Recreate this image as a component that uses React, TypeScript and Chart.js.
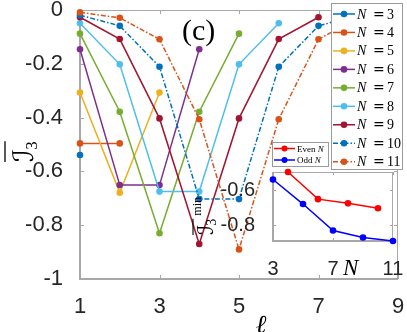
import React, { useEffect, useRef } from "react";
import { Chart, registerables } from "chart.js";

Chart.register(...registerables);

// ---------------- data ----------------
const ellValues = [1, 2, 3, 4, 5, 6, 7, 8, 9];
const systemSizes = [3, 4, 5, 6, 7, 8, 9, 10, 11];
const mainXTicks = [1, 3, 5, 7, 9];
const mainYTicks = [0, -0.2, -0.4, -0.6, -0.8, -1];
const insetXTicks = [3, 7, 11];
const insetYTicks = [-0.8, -0.6];

const I3_N3 = [-0.539];
const I3_N4 = [-0.496, -0.496];
const I3_N5 = [-0.307, -0.679, -0.307];
const I3_N6 = [-0.146, -0.651, -0.651, -0.146];
const I3_N7 = [-0.088, -0.378, -0.83, -0.378, -0.088];
const I3_N8 = [-0.049, -0.202, -0.675, -0.675, -0.202, -0.049];
const I3_N9 = [-0.027, -0.108, -0.403, -0.87, -0.403, -0.108, -0.027];
const I3_N10 = [-0.019, -0.059, -0.211, -0.703, -0.703, -0.211, -0.059, -0.019];
const I3_N11 = [-0.009, -0.029, -0.109, -0.406, -0.89, -0.406, -0.109, -0.029, -0.009];

const seriesValues = [I3_N3, I3_N4, I3_N5, I3_N6, I3_N7, I3_N8, I3_N9, I3_N10, I3_N11];
const seriesColors = ["#0072BD", "#D95319", "#EDB120", "#7E2F8E", "#77AC30", "#4DBEEE", "#A2142F", "#0072BD", "#D95319"];
const seriesDashed = [false, false, false, false, false, false, false, true, true];

const evenSizes = systemSizes.filter((n) => n % 2 === 0);
const oddSizes = systemSizes.filter((n) => n % 2 === 1);
const minOfSize = (n: number) => Math.min(...seriesValues[systemSizes.indexOf(n)]);
const evenMins = evenSizes.map(minOfSize);
const oddMins = oddSizes.map(minOfSize);

// ---------------- styles ----------------
const W = 407;
const H = 332;
const INSET_LEFT = 180;
const INSET_TOP = 138;
const INSET_W = 227;
const INSET_H = 152;
const AXIS_COLOR = "#a8a8a8";
const TEXT_COLOR = "#262626";
const DASH_DOT = [5, 2, 1.5, 2];
const SANS = "Liberation Sans";
const SERIF = "Liberation Serif";

function drawBox(chart: any, tickLen: number) {
  const { ctx, chartArea: a } = chart;
  const xs = chart.scales.x;
  const ys = chart.scales.y;
  ctx.save();
  ctx.strokeStyle = AXIS_COLOR;
  ctx.lineWidth = 1;
  ctx.setLineDash([]);
  ctx.beginPath();
  xs.ticks.forEach((t: any) => {
    const p = Math.round(xs.getPixelForValue(t.value)) + 0.5;
    ctx.moveTo(p, a.bottom);
    ctx.lineTo(p, a.bottom - tickLen);
    ctx.moveTo(p, a.top);
    ctx.lineTo(p, a.top + tickLen);
  });
  ys.ticks.forEach((t: any) => {
    const p = Math.round(ys.getPixelForValue(t.value)) + 0.5;
    ctx.moveTo(a.left, p);
    ctx.lineTo(a.left + tickLen, p);
    ctx.moveTo(a.right, p);
    ctx.lineTo(a.right - tickLen, p);
  });
  ctx.moveTo(a.left, a.top + 0.5);
  ctx.lineTo(a.right, a.top + 0.5);
  ctx.moveTo(a.right - 0.5, a.top);
  ctx.lineTo(a.right - 0.5, a.bottom);
  ctx.stroke();
  ctx.lineWidth = 2;
  ctx.beginPath();
  ctx.moveTo(a.left, a.top);
  ctx.lineTo(a.left, a.bottom);
  ctx.lineTo(a.right, a.bottom);
  ctx.stroke();
  ctx.restore();
}

function legendSample(ctx: CanvasRenderingContext2D, x0: number, x1: number, y: number, color: string, dashed: boolean, r: number) {
  ctx.strokeStyle = color;
  ctx.lineWidth = 1.5;
  ctx.setLineDash(dashed ? DASH_DOT : []);
  ctx.beginPath();
  ctx.moveTo(x0, y);
  ctx.lineTo(x1, y);
  ctx.stroke();
  ctx.setLineDash([]);
  ctx.fillStyle = color;
  ctx.beginPath();
  ctx.arc((x0 + x1) / 2, y, r, 0, Math.PI * 2);
  ctx.fill();
}

const mainDecor = {
  id: "mainDecor",
  beforeDatasetsDraw(chart: any) {
    drawBox(chart, 4);
  },
  afterDraw(chart: any) {
    const ctx: CanvasRenderingContext2D = chart.ctx;
    ctx.save();
    // panel label
    ctx.fillStyle = "#000";
    ctx.font = `30px "${SERIF}"`;
    ctx.textAlign = "left";
    ctx.textBaseline = "alphabetic";
    ctx.fillText("(c)", 182, 40);

    // legend
    const lx = 331, ly = 3, lw = 72, lh = 167;
    ctx.fillStyle = "#fff";
    ctx.fillRect(lx, ly, lw, lh);
    ctx.strokeStyle = "#9a9a9a";
    ctx.lineWidth = 1;
    ctx.strokeRect(lx + 0.5, ly + 0.5, lw - 1, lh - 1);
    systemSizes.forEach((n, i) => {
      const y = 14 + i * 18.46;
      legendSample(ctx, lx + 2, lx + 24, y, seriesColors[i], seriesDashed[i], 3.3);
      ctx.fillStyle = "#000";
      ctx.textAlign = "left";
      ctx.textBaseline = "alphabetic";
      ctx.font = `italic 14px "${SERIF}"`;
      ctx.fillText("N", lx + 26, y + 4.5);
      ctx.font = `14px "DejaVu Serif"`;
      ctx.fillText("=", lx + 42, y + 4.5);
      ctx.font = `14px "${SERIF}"`;
      ctx.fillText(String(n), lx + 56, y + 4.5);
    });

    // y title: overline{ I_3 }
    ctx.save();
    ctx.translate(33, 162);
    ctx.rotate(-Math.PI / 2);
    ctx.fillStyle = "#000";
    ctx.textAlign = "left";
    ctx.textBaseline = "alphabetic";
    ctx.font = `28px "DejaVu Serif", "DejaVu Sans"`;
    ctx.fillText("\u2110", 0, 0);
    const wI = ctx.measureText("\u2110").width;
    ctx.font = `17px "${SERIF}"`;
    ctx.fillText("3", wI - 1, 4);
    const w3 = ctx.measureText("3").width;
    ctx.strokeStyle = "#000";
    ctx.lineWidth = 1.3;
    ctx.beginPath();
    ctx.moveTo(0, -28);
    ctx.lineTo(wI - 1 + w3, -28);
    ctx.stroke();
    ctx.restore();

    // x title
    ctx.fillStyle = "#000";
    ctx.textAlign = "center";
    ctx.font = `italic 26px "DejaVu Serif"`;
    ctx.fillText("\u2113", 261, 333);
    ctx.restore();
  },
};

const insetDecor = {
  id: "insetDecor",
  beforeDraw(chart: any) {
    const { ctx, chartArea: a } = chart;
    ctx.save();
    ctx.fillStyle = "#fff";
    ctx.fillRect(a.left, a.top, a.right - a.left, a.bottom - a.top);
    ctx.restore();
  },
  beforeDatasetsDraw(chart: any) {
    drawBox(chart, 3);
  },
  afterDraw(chart: any) {
    const ctx: CanvasRenderingContext2D = chart.ctx;
    const ox = -INSET_LEFT, oy = -INSET_TOP;
    ctx.save();
    // inset legend
    const lx = 272 + ox, ly = 142 + oy, lw = 57, lh = 25;
    ctx.fillStyle = "#fff";
    ctx.fillRect(lx, ly, lw, lh);
    ctx.strokeStyle = "#9a9a9a";
    ctx.lineWidth = 1;
    ctx.strokeRect(lx + 0.5, ly + 0.5, lw - 1, lh - 1);
    const entries = [
      { label: "Even ", color: "#ff0000", y: 148.5 },
      { label: "Odd ", color: "#0000ff", y: 160 },
    ];
    entries.forEach((e) => {
      const y = e.y + oy;
      legendSample(ctx, lx + 2, lx + 23, y, e.color, false, 3);
      ctx.fillStyle = "#000";
      ctx.textAlign = "left";
      ctx.textBaseline = "alphabetic";
      ctx.font = `9px "${SERIF}"`;
      ctx.fillText(e.label, lx + 25, y + 3);
      const w = ctx.measureText(e.label).width;
      ctx.font = `italic 9px "${SERIF}"`;
      ctx.fillText("N", lx + 25 + w, y + 3);
    });

    // x title N
    ctx.fillStyle = "#000";
    ctx.font = `italic 23px "${SERIF}"`;
    ctx.fillText("N", 343 + ox, 275 + oy);

    // y title: overline{I_3}^{min}
    ctx.save();
    ctx.translate(213 + ox, 235 + oy);
    ctx.rotate(-Math.PI / 2);
    ctx.font = `22px "DejaVu Serif", "DejaVu Sans"`;
    ctx.fillText("\u2110", 0, 0);
    const wI = ctx.measureText("\u2110").width;
    ctx.font = `14px "${SERIF}"`;
    ctx.fillText("3", wI - 1, 3);
    const w3 = ctx.measureText("3").width;
    ctx.font = `12px "${SERIF}"`;
    ctx.fillText("min", wI + w3 + 2, -12);
    ctx.strokeStyle = "#000";
    ctx.lineWidth = 1.1;
    ctx.beginPath();
    ctx.moveTo(0, -20);
    ctx.lineTo(wI - 1 + w3, -20);
    ctx.stroke();
    ctx.restore();
    ctx.restore();
  },
};

export default function App() {
  const mainRef = useRef<HTMLCanvasElement>(null);
  const insetRef = useRef<HTMLCanvasElement>(null);

  useEffect(() => {
    document.body.style.margin = "0";
    const datasets = seriesValues.map((vals, i) => ({
      label: `N = ${systemSizes[i]}`,
      data: vals.map((v, j) => ({ x: ellValues[j], y: v })),
      borderColor: seriesColors[i],
      backgroundColor: seriesColors[i],
      pointBackgroundColor: seriesColors[i],
      pointBorderColor: seriesColors[i],
      pointBorderWidth: 0,
      pointRadius: 3.3,
      borderWidth: 1.5,
      borderDash: seriesDashed[i] ? DASH_DOT : [],
      tension: 0,
      clip: false as any,
      order: 20 - i,
    }));

    const main = new Chart(mainRef.current!, {
      type: "line",
      data: { datasets },
      plugins: [mainDecor],
      options: {
        animation: false,
        responsive: false,
        events: [],
        layout: { padding: { top: 10, right: 9, left: 0, bottom: 0 }, autoPadding: false } as any,
        plugins: { legend: { display: false }, tooltip: { enabled: false } },
        scales: {
          x: {
            type: "linear",
            min: 1,
            max: 9,
            grid: { display: false },
            border: { display: false },
            afterBuildTicks: (s: any) => {
              s.ticks = mainXTicks.map((v) => ({ value: v }));
            },
            ticks: {
              autoSkip: false,
              maxRotation: 0,
              padding: 7,
              color: TEXT_COLOR,
              font: { family: SANS, size: 22 },
              callback: (v: any) => String(v),
            },
            afterFit: (s: any) => {
              s.height = 53;
              s.paddingLeft = 0;
              s.paddingRight = 0;
            },
          },
          y: {
            type: "linear",
            min: -1,
            max: 0,
            grid: { display: false },
            border: { display: false },
            afterBuildTicks: (s: any) => {
              s.ticks = mainYTicks.map((v) => ({ value: v }));
            },
            ticks: {
              autoSkip: false,
              padding: 9,
              color: TEXT_COLOR,
              font: { family: SANS, size: 22 },
              callback: (v: any) => String(Math.round(Number(v) * 10) / 10),
            },
            afterFit: (s: any) => {
              s.width = 80;
              s.paddingTop = 0;
              s.paddingBottom = 0;
            },
          },
        },
      } as any,
    });

    const inset = new Chart(insetRef.current!, {
      type: "line",
      data: {
        datasets: [
          {
            label: "Even N",
            data: evenSizes.map((n, i) => ({ x: n, y: evenMins[i] })),
            borderColor: "#ff0000",
            backgroundColor: "#ff0000",
            pointBackgroundColor: "#ff0000",
            pointBorderWidth: 0,
            pointRadius: 3.3,
            borderWidth: 1.5,
            clip: false as any,
          },
          {
            label: "Odd N",
            data: oddSizes.map((n, i) => ({ x: n, y: oddMins[i] })),
            borderColor: "#0000ff",
            backgroundColor: "#0000ff",
            pointBackgroundColor: "#0000ff",
            pointBorderWidth: 0,
            pointRadius: 3.3,
            borderWidth: 1.5,
            clip: false as any,
          },
        ],
      },
      plugins: [insetDecor],
      options: {
        animation: false,
        responsive: false,
        events: [],
        layout: { padding: { top: 34, right: 14, left: 0, bottom: 0 }, autoPadding: false } as any,
        plugins: { legend: { display: false }, tooltip: { enabled: false } },
        scales: {
          x: {
            type: "linear",
            min: 3,
            max: 11,
            grid: { display: false },
            border: { display: false },
            afterBuildTicks: (s: any) => {
              s.ticks = insetXTicks.map((v) => ({ value: v }));
            },
            ticks: {
              autoSkip: false,
              maxRotation: 0,
              padding: 8,
              color: TEXT_COLOR,
              font: { family: SANS, size: 20 },
              callback: (v: any) => String(v),
            },
            afterFit: (s: any) => {
              s.height = 49;
              s.paddingLeft = 0;
              s.paddingRight = 0;
            },
          },
          y: {
            type: "linear",
            min: Math.min(...oddMins, ...evenMins),
            max: Math.max(...oddMins, ...evenMins),
            grid: { display: false },
            border: { display: false },
            afterBuildTicks: (s: any) => {
              s.ticks = insetYTicks.map((v) => ({ value: v }));
            },
            ticks: {
              autoSkip: false,
              padding: 10,
              color: TEXT_COLOR,
              font: { family: SANS, size: 20 },
              callback: (v: any) => Number(v).toFixed(1),
            },
            afterFit: (s: any) => {
              s.width = 93;
              s.paddingTop = 0;
              s.paddingBottom = 0;
            },
          },
        },
      } as any,
    });

    return () => {
      main.destroy();
      inset.destroy();
    };
  }, []);

  return (
    <div style={{ position: "relative", width: W, height: H, background: "#fff", overflow: "hidden" }}>
      <canvas
        ref={mainRef}
        width={W}
        height={H}
        style={{ position: "absolute", left: 0, top: 0, width: W, height: H }}
      />
      <canvas
        ref={insetRef}
        width={INSET_W}
        height={INSET_H}
        style={{ position: "absolute", left: INSET_LEFT, top: INSET_TOP, width: INSET_W, height: INSET_H, pointerEvents: "none" }}
      />
    </div>
  );
}
